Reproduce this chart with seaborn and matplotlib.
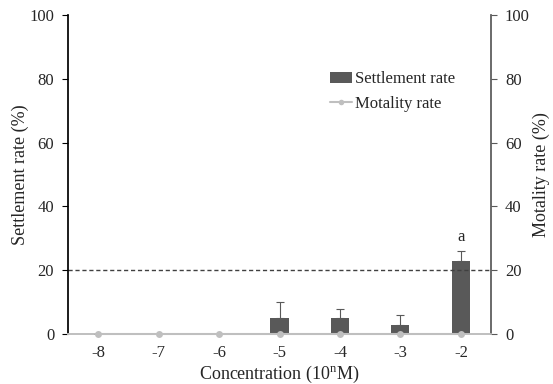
import numpy as np
import pandas as pd
import matplotlib
matplotlib.use("Agg")
import matplotlib.pyplot as plt
import seaborn as sns
from matplotlib.lines import Line2D
from matplotlib.patches import Patch

categories = ["-8", "-7", "-6", "-5", "-4", "-3", "-2"]
settlement = [0, 0, 0, 5, 5, 3, 23]
settlement_err = [0, 0, 0, 5, 3, 3, 3]
mortality = [0, 0, 0, 0, 0, 0, 0]
yticks = [0, 20, 40, 60, 80, 100]

sns.set_theme(style="white")
plt.rcParams['font.family'] = ['Liberation Serif', 'DejaVu Serif']

fig = plt.figure(figsize=(5.53, 3.84), dpi=100)
ax = fig.add_axes([0.123, 0.130, 0.765, 0.831])

df = pd.DataFrame({"conc": categories, "settle": settlement})
bar_color = "#595959"
line_color = "#bfbfbf"

sns.barplot(data=df, x="conc", y="settle", color=bar_color, width=0.3,
            saturation=1, ax=ax, errorbar=None, order=categories,
            linewidth=0, edgecolor="none")
pos = np.arange(len(categories))
ax.errorbar(pos, settlement, yerr=[np.zeros(len(pos)), settlement_err],
            fmt="none", ecolor=bar_color, elinewidth=0.8, capsize=3, capthick=0.8, zorder=3)

ax.axhline(20, color="#404040", ls=(0, (3, 2)), lw=1.0, zorder=1)

ax2 = ax.twinx()
sns.lineplot(x=pos, y=mortality, color=line_color, marker="o", markersize=5,
             markeredgewidth=0, lw=1.5, ax=ax2, zorder=5, clip_on=False)

for a in (ax, ax2):
    a.set_ylim(0, 100)
    a.set_xlim(-0.5, len(categories) - 0.5)
    a.set_yticks(yticks)
    a.spines["top"].set_visible(False)
    a.spines["bottom"].set_color(line_color)
    a.spines["bottom"].set_linewidth(1.2)

ax.spines["left"].set_color("#000000")
ax.spines["right"].set_visible(False)
ax2.spines["left"].set_visible(False)
ax2.spines["right"].set_color("#595959")

ax.tick_params(axis="y", direction="out", length=4, width=0.8, color="black",
               labelsize=12, pad=6, left=True)
ax2.tick_params(axis="y", direction="out", length=4, width=0.8, color="#595959",
                labelsize=12, pad=6, right=True)
ax.tick_params(axis="x", length=0, labelsize=12, pad=8)

ax.set_xticks(pos)
ax.set_xticklabels(categories)
ax.set_xlabel("Concentration (10$^{\\mathregular{n}}$M)", fontsize=13, labelpad=2)
ax.set_ylabel("Settlement rate (%)", fontsize=13, labelpad=0)
ax2.set_ylabel("Motality rate (%)", fontsize=13, labelpad=2, rotation=90)

ax.text(pos[-1], 28, "a", ha="center", va="bottom", fontsize=12)

handles = [Patch(facecolor=bar_color, edgecolor="none"),
           Line2D([0], [0], color=line_color, marker="o", markersize=4, lw=1.5, markeredgewidth=0)]
ax2.legend(handles, ["Settlement rate", "Motality rate"], loc="upper left",
           bbox_to_anchor=(0.583, 0.87), frameon=False, fontsize=12,
           handlelength=1.35, handletextpad=0.2, labelspacing=0.5)

fig.savefig("out.png", dpi=100)
